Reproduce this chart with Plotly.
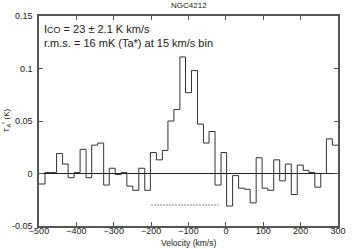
import plotly.graph_objects as go

# bin edges (km/s)
vel_edges = [-500, -484, -469, -453, -437, -422, -406, -390, -374, -359,
             -343, -327, -312, -296, -280, -265, -249, -233, -217, -202,
             -186, -170, -155, -139, -123, -108, -92, -76, -60, -45,
             -29, -13, 2, 18, 34, 50, 65, 81, 97, 112,
             128, 144, 159, 175, 191, 207, 222, 238, 254, 269,
             285, 300]
# antenna temperature per bin (K)
ta_vals = [-0.010, 0.001, 0.001, 0.019, 0.009, -0.004, 0.001, 0.023, -0.004, 0.027,
           0.029, -0.011, 0.005, -0.001, 0.001, -0.012, -0.016, 0.005, -0.016, 0.020,
           0.013, 0.022, 0.050, 0.061, 0.111, 0.077, 0.098, 0.047, 0.029, 0.040,
           -0.011, 0.020, -0.031, -0.002, -0.014, -0.015, -0.028, 0.015, -0.014, -0.016,
           0.013, -0.007, 0.009, -0.020, 0.008, 0.003, 0.001, -0.013, 0.000, 0.033,
           0.027]
# integration window marker
window_x = [-200, -20]
window_y = [-0.030, -0.030]

x_ticks = [-500, -400, -300, -200, -100, 0, 100, 200, 300]
y_ticks = [-0.05, 0, 0.05, 0.1, 0.15]
y_tick_text = ["-0.05", "0", "0.05", "0.1", "0.15"]

FONT = "Liberation Sans"

fig = go.Figure()
fig.add_trace(go.Scatter(x=[-500, 300], y=[0, 0], mode="lines",
                         line=dict(color="#222", width=1), hoverinfo="skip"))
fig.add_trace(go.Scatter(x=vel_edges, y=ta_vals + [ta_vals[-1]], mode="lines",
                         line=dict(color="#333", width=1, shape="hv")))
fig.add_trace(go.Scatter(x=window_x, y=window_y, mode="lines",
                         line=dict(color="#555", width=0.8, dash="2px,1px")))

axis_common = dict(showgrid=False, zeroline=False, showline=True, linecolor="#555",
                   linewidth=1.5, mirror="ticks", ticks="inside", ticklen=4,
                   tickcolor="#555", tickwidth=1,
                   tickfont=dict(family=FONT, size=9, color="#222"))

fig.update_layout(
    width=355, height=249,
    margin=dict(l=39, r=9, t=16, b=23),
    paper_bgcolor="white", plot_bgcolor="white",
    showlegend=False,
    xaxis=dict(range=[-500, 300], tickvals=x_ticks, ticklabelstandoff=-5,
               **axis_common),
    yaxis=dict(range=[-0.05, 0.15], tickvals=y_ticks, ticktext=y_tick_text,
               ticklabelstandoff=3, **axis_common),
    annotations=[
        dict(text="NGC4212", xref="paper", yref="paper", x=0.5, y=1.048,
             xanchor="center", yanchor="middle", showarrow=False,
             font=dict(family=FONT, size=8, color="#222")),
        dict(text="Velocity (km/s)", xref="paper", yref="paper", x=0.5, y=-0.08,
             xanchor="center", yanchor="middle", showarrow=False,
             font=dict(family=FONT, size=8.5, color="#222")),
        dict(text="T<sub>A</sub><sup>*</sup> (K)", xref="paper", yref="paper",
             x=-0.112, y=0.5, xanchor="center", yanchor="middle", textangle=-90,
             showarrow=False, font=dict(family=FONT, size=8, color="#222")),
        dict(text="I<span style='font-size:9px'>CO</span> = 23 \u00b1 2.1 K km/s<br>"
                  "r.m.s. = 16 mK (Ta*) at 15 km/s bin",
             xref="paper", yref="paper", x=0.01, y=0.975, xanchor="left",
             yanchor="top", align="left", showarrow=False,
             font=dict(family=FONT, size=11, color="#222")),
    ],
)

fig.write_html("out.html", config={"displayModeBar": False},
               post_script="document.body.style.margin='0';"
                           "document.body.style.overflow='hidden';")
